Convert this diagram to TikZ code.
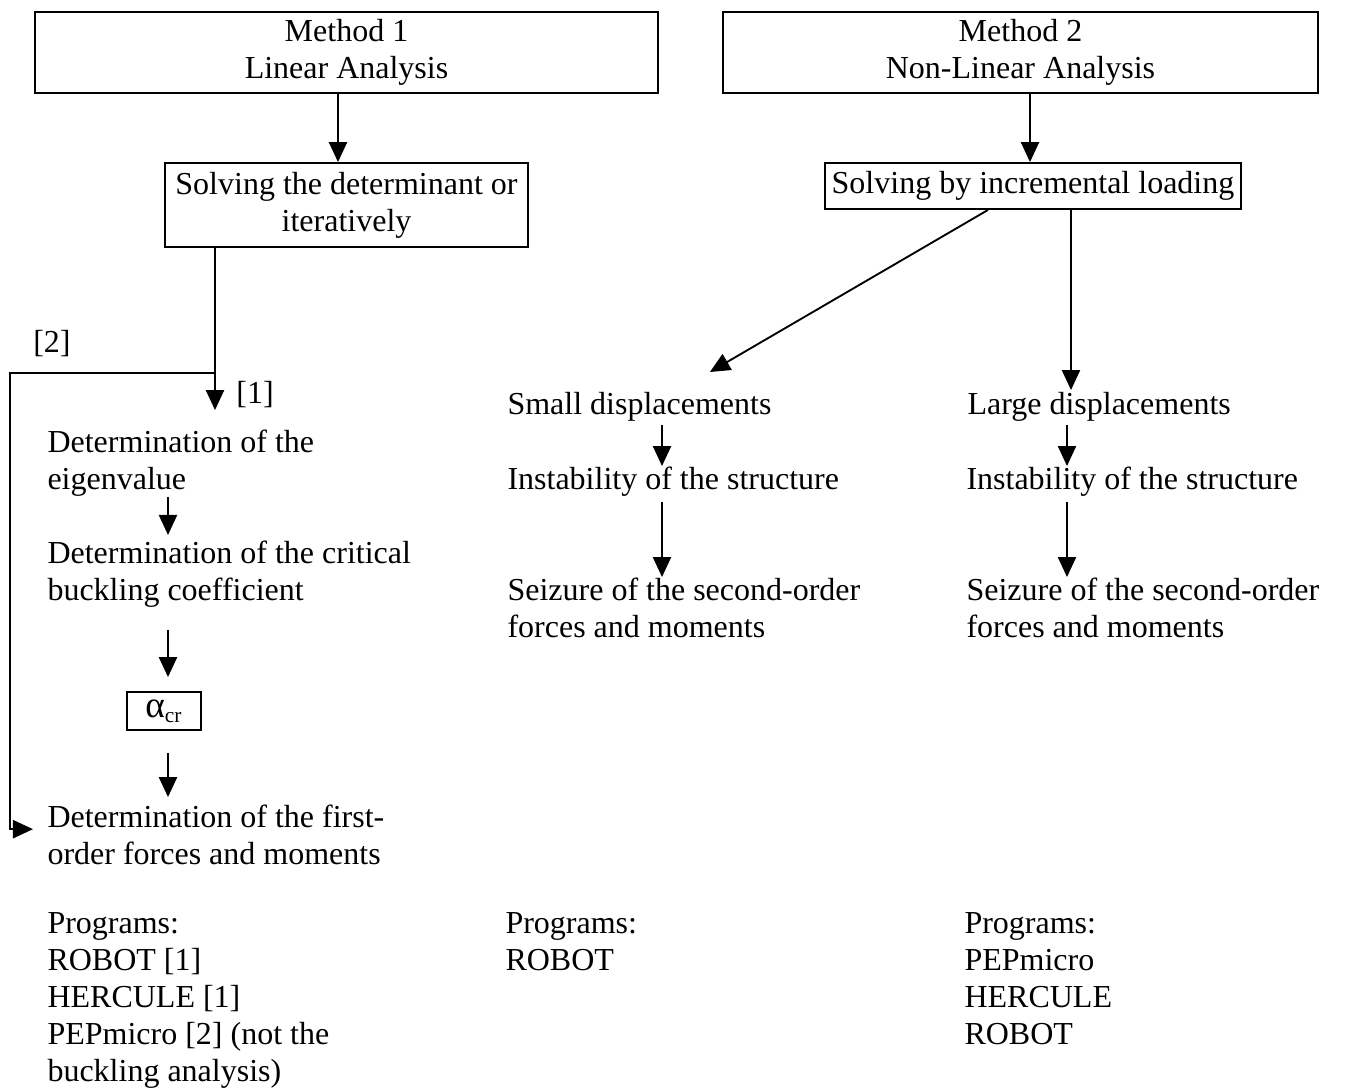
\documentclass[tikz,border=0pt]{standalone}
\usepackage{fontspec}
\setmainfont{Liberation Serif}
\usetikzlibrary{arrows.meta,calc}
\begin{document}
\begin{tikzpicture}[x=0.375pt,y=-0.375pt,
  box/.style={draw,line width=0.7pt,inner sep=0pt,align=center,font=\fontsize{12}{13.9}\selectfont},
  txt/.style={inner sep=0pt,anchor=north west,align=left,font=\fontsize{12}{13.9}\selectfont},
  lbl/.style={inner sep=0pt,font=\fontsize{12}{13.9}\selectfont},
  arr/.style={line width=0.7pt,-{Triangle[length=7.5pt,width=6.8pt]}}]
\useasboundingbox (0,0) rectangle (1349,1088);
% x positions
\coordinate (xa) at (338,0);
\coordinate (xb) at (215,0);
\coordinate (xc) at (168,0);
\coordinate (xd) at (1030,0);
\coordinate (xe) at (988,0);
\coordinate (xf) at (1071,0);
\coordinate (xg) at (662,0);
\coordinate (xh) at (1067,0);
\coordinate (xi) at (10,0);
% boxes
\node[box,minimum width=233.6pt,minimum height=30.4pt] (m1) at (346.5,52.5) {Method 1\\Linear Analysis};
\node[box,minimum width=223.1pt,minimum height=30.4pt] (m2) at (1020.5,52.5) {Method 2\\Non-Linear Analysis};
\node[box,minimum width=136.1pt,minimum height=31.5pt] (s1) at (346.5,205) {Solving the determinant or\\iteratively};
\node[box,minimum width=156pt,minimum height=17.25pt] (s2) at (1033,186) {Solving by incremental loading};
\node[box,minimum width=27.75pt,minimum height=14.25pt] (al) at (164,711) {{\fontsize{14}{14}\selectfont α}\textsubscript{cr}};
% left column texts
\node[txt] (eig) at (47,429) {Determination of the\\eigenvalue};
\node[txt] (crit) at (47,540) {Determination of the critical\\buckling coefficient};
\node[txt] (first) at (47,804) {Determination of the first-\\order forces and moments};
\node[txt] (prog1) at (47,912) {Programs:\\ROBOT [1]\\HERCULE [1]\\PEPmicro [2] (not the\\buckling analysis)};
\node[lbl] (lab2) at (52,344) {[2]};
\node[lbl] (lab1) at (255,395) {[1]};
% middle column
\node[txt] (small) at (507,392) {Small displacements};
\node[txt] (inst1) at (507,466) {Instability of the structure};
\node[txt] (seiz1) at (507,577) {Seizure of the second-order\\forces and moments};
\node[txt] (prog2) at (505,912) {Programs:\\ROBOT};
% right column
\node[txt] (large) at (967,392) {Large displacements};
\node[txt] (inst2) at (966,466) {Instability of the structure};
\node[txt] (seiz2) at (966,577) {Seizure of the second-order\\forces and moments};
\node[txt] (prog3) at (964,912) {Programs:\\PEPmicro\\HERCULE\\ROBOT};
% connectors
\draw[arr] (m1.south -| xa) -- (s1.north -| xa);
\draw[arr] (m2.south -| xd) -- (s2.north -| xd);
\draw[arr,shorten >=7.1pt] (s1.south -| xb) -- (eig.north -| xb);
\coordinate (j) at (215,373);
\coordinate (fw) at ([xshift=-5.25pt,yshift=2pt]first.west);
\draw[arr] (j) -- (j -| xi) -- (fw -| xi) -- (fw);
\draw[arr,shorten >=1.9pt] (eig.south -| xc) -- (crit.north -| xc);
\draw[arr,shorten <=8.25pt,shorten >=5.25pt] (crit.south -| xc) -- (al.north -| xc);
\draw[arr,shorten <=8.25pt,shorten >=2.6pt] (al.south -| xc) -- (first.north -| xc);
\draw[arr] (s2.south -| xe) -- ([xshift=76.1pt,yshift=7.5pt]small.north west);
\draw[arr,shorten >=0.75pt] (s2.south -| xf) -- (large.north -| xf);
\draw[arr,shorten <=1pt] (small.south -| xg) -- (inst1.north -| xg);
\draw[arr,shorten <=1.9pt] (inst1.south -| xg) -- (seiz1.north -| xg);
\draw[arr,shorten <=1pt] (large.south -| xh) -- (inst2.north -| xh);
\draw[arr,shorten <=1.9pt] (inst2.south -| xh) -- (seiz2.north -| xh);
\end{tikzpicture}
\end{document}
